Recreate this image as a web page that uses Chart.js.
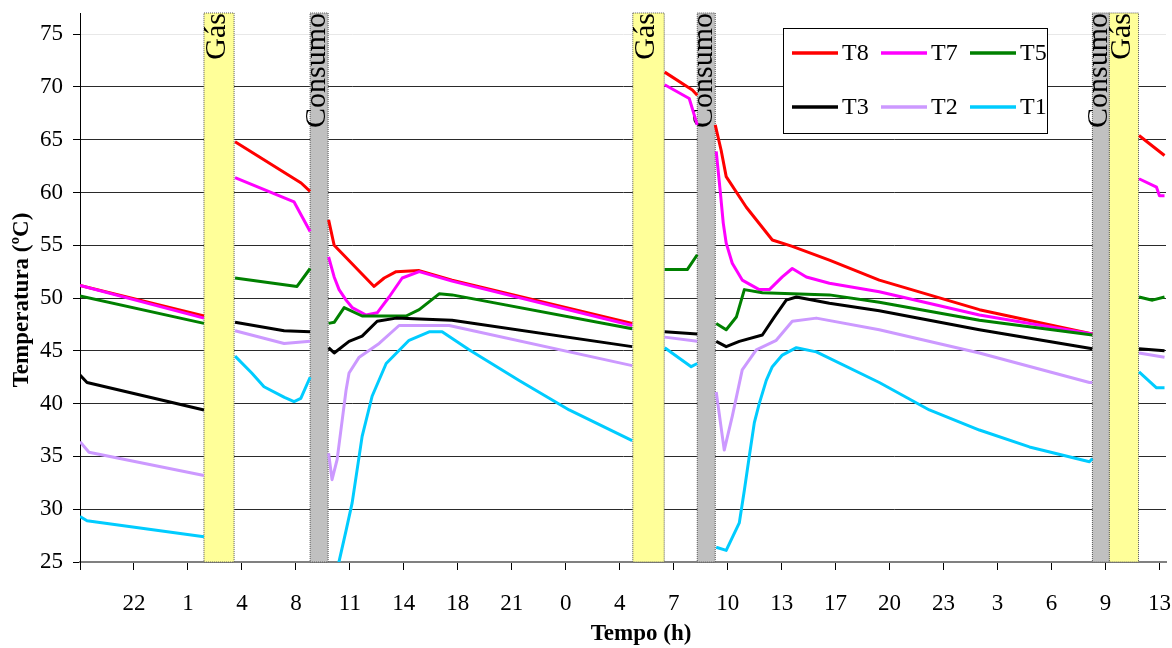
<!DOCTYPE html>
<html>
<head>
<meta charset="utf-8">
<script src="https://cdn.jsdelivr.net/npm/chart.js@4.4.0/dist/chart.umd.min.js"></script>
<style>
  html, body { margin: 0; padding: 0; background: #fff; }
</style>
</head>
<body>
<canvas id="chart" width="1172" height="648"></canvas>
<script>
// Axis setup
const X_MAX = 66.4;          // hours shown
const TICK_STEP = 3.3;       // hours between ticks
const TICK_LABELS = ['', '22', '1', '4', '8', '11', '14', '18', '21', '0', '4', '7', '10', '13', '17', '20', '23', '3', '6', '9', '13'];
const Y_TICKS = [25, 30, 35, 40, 45, 50, 55, 60, 65, 70, 75];

// Shaded periods (hours since start)
const BAND_LABELS = ['Gás', 'Consumo', 'Gás', 'Consumo', 'Consumo', 'Gás'];
const BAND_START = [7.58, 14.07, 33.8, 37.74, 61.9, 62.94];
const BAND_END = [9.42, 15.17, 35.72, 38.84, 62.94, 64.72];
const BAND_COLORS = ['#ffff99', '#c0c0c0', '#ffff99', '#c0c0c0', '#c0c0c0', '#ffff99'];

// Series: [hours, ºC], null value = break in the line
const T8 = [
  [0, 51.2], [7.58, 48.3], [7.6, null],
  [9.48, 64.8], [13.52, 60.9], [14.07, 60.1], [14.1, null],
  [15.2, 57.4], [15.54, 55.0], [17.98, 51.1], [18.6, 51.9], [19.33, 52.5], [20.74, 52.6], [22.75, 51.7], [33.76, 47.6], [33.8, null],
  [35.75, 71.4], [37.44, 69.7], [37.74, 69.2], [37.8, null],
  [38.84, 66.4], [39.2, 64.0], [39.51, 61.5], [40.74, 58.6], [42.33, 55.5], [43.55, 54.9], [45.82, 53.6], [48.87, 51.7], [54.99, 48.9], [61.9, 46.6], [61.95, null],
  [64.75, 65.4], [66.31, 63.5]
];
const T7 = [
  [0, 51.2], [7.58, 48.1], [7.6, null],
  [9.48, 61.4], [13.09, 59.1], [14.07, 56.3], [14.1, null],
  [15.2, 53.9], [15.54, 52.0], [15.84, 50.8], [16.27, 49.8], [16.64, 49.1], [17.49, 48.4], [18.17, 48.6], [18.9, 50.1], [19.7, 51.9], [20.74, 52.5], [22.75, 51.6], [33.76, 47.4], [33.8, null],
  [35.75, 70.2], [37.25, 68.9], [37.74, 66.4], [37.8, null],
  [38.9, 63.9], [39.14, 60.2], [39.33, 57.1], [39.51, 55.2], [39.88, 53.3], [40.49, 51.7], [41.53, 50.8], [42.15, 50.8], [42.94, 52.0], [43.55, 52.8], [44.41, 52.0], [45.82, 51.4], [48.87, 50.6], [54.99, 48.4], [61.9, 46.6], [61.95, null],
  [64.75, 61.3], [65.82, 60.5], [66.0, 59.7], [66.31, 59.7]
];
const T5 = [
  [0, 50.2], [7.58, 47.6], [7.6, null],
  [9.48, 51.9], [13.27, 51.1], [14.07, 52.8], [14.1, null],
  [15.2, 47.6], [15.54, 47.7], [16.15, 49.1], [17.25, 48.3], [19.94, 48.3], [20.74, 48.9], [21.96, 50.4], [22.75, 50.3], [33.76, 47.1], [33.8, null],
  [35.75, 52.7], [37.13, 52.7], [37.74, 54.1], [37.8, null],
  [38.9, 47.6], [39.51, 47.0], [40.13, 48.2], [40.62, 50.8], [41.72, 50.5], [45.82, 50.3], [48.87, 49.6], [54.99, 47.9], [61.9, 46.5], [61.95, null],
  [64.75, 50.1], [65.57, 49.8], [66.31, 50.1]
];
const T3 = [
  [0, 42.7], [0.43, 42.0], [7.58, 39.4], [7.6, null],
  [9.48, 47.7], [12.48, 46.9], [14.07, 46.8], [14.1, null],
  [15.2, 45.3], [15.54, 44.8], [16.45, 45.9], [17.25, 46.4], [18.17, 47.8], [19.33, 48.1], [21.16, 48.0], [22.75, 47.9], [33.76, 45.4], [33.8, null],
  [35.75, 46.8], [37.74, 46.6], [37.8, null],
  [38.9, 45.9], [39.51, 45.4], [40.31, 45.9], [41.72, 46.5], [42.45, 48.2], [43.18, 49.8], [43.8, 50.1], [45.82, 49.5], [48.87, 48.8], [54.99, 47.0], [61.9, 45.2], [61.95, null],
  [64.75, 45.2], [66.31, 45.0]
];
const T2 = [
  [0, 36.4], [0.55, 35.4], [7.58, 33.2], [7.6, null],
  [9.48, 46.9], [12.48, 45.7], [14.07, 45.9], [14.1, null],
  [15.2, 35.3], [15.41, 32.8], [15.72, 34.7], [16.27, 41.3], [16.45, 42.9], [17.07, 44.4], [18.29, 45.7], [19.51, 47.4], [22.57, 47.4], [33.76, 43.6], [33.8, null],
  [35.75, 46.3], [37.74, 45.9], [37.8, null],
  [38.9, 41.1], [39.39, 35.6], [39.88, 38.8], [40.49, 43.2], [41.35, 45.1], [42.57, 46.0], [43.55, 47.8], [45.02, 48.1], [48.87, 47.0], [54.99, 44.8], [61.72, 42.0], [61.9, 42.0], [61.95, null],
  [64.75, 44.8], [66.31, 44.4]
];
const T1 = [
  [0, 29.3], [0.43, 28.9], [7.58, 27.4], [7.6, null],
  [9.48, 44.5], [10.5, 42.9], [11.25, 41.6], [12.5, 40.6], [13.09, 40.2], [13.5, 40.5], [14.07, 42.5], [14.1, null],
  [15.54, 23.0], [16.27, 28.0], [16.64, 30.6], [17.25, 36.9], [17.86, 40.7], [18.72, 43.8], [20.12, 46.0], [21.35, 46.8], [22.14, 46.8], [23.79, 45.1], [26.85, 42.2], [29.91, 39.4], [33.76, 36.5], [33.8, null],
  [35.75, 45.3], [37.37, 43.5], [37.74, 43.8], [37.8, null],
  [38.9, 26.4], [39.51, 26.1], [40.31, 28.7], [40.62, 31.8], [40.92, 35.0], [41.23, 38.2], [41.53, 40.0], [41.96, 42.2], [42.33, 43.5], [42.94, 44.6], [43.8, 45.3], [45.02, 44.9], [48.87, 42.0], [51.93, 39.4], [54.99, 37.5], [58.05, 35.9], [61.72, 34.5], [61.9, 34.8], [61.95, null],
  [64.75, 43.0], [65.82, 41.5], [66.31, 41.5]
];

const SERIES_NAMES = ['T8', 'T7', 'T5', 'T3', 'T2', 'T1'];
const SERIES_DATA = [T8, T7, T5, T3, T2, T1];
const SERIES_COLORS = ['#ff0000', '#ff00ff', '#008000', '#000000', '#cc99ff', '#00ccff'];

const FONT = '"Liberation Serif", "Times New Roman", serif';
Chart.defaults.font.family = FONT;
Chart.defaults.color = '#000';

// Yellow / gray periods with their vertical labels
const bandPlugin = {
  id: 'bands',
  beforeDatasetsDraw(chart) {
    const { ctx, chartArea, scales: { x } } = chart;
    BAND_START.forEach((s, i) => {
      const x0 = x.getPixelForValue(s);
      const x1 = x.getPixelForValue(BAND_END[i]);
      ctx.save();
      ctx.fillStyle = BAND_COLORS[i];
      ctx.fillRect(x0, chartArea.top, x1 - x0, chartArea.bottom - chartArea.top);
      ctx.setLineDash([1, 1]);
      ctx.strokeStyle = '#555';
      ctx.lineWidth = 1;
      ctx.strokeRect(x0, chartArea.top, x1 - x0, chartArea.bottom - chartArea.top);
      ctx.setLineDash([]);
      ctx.translate((x0 + x1) / 2 - 2, chartArea.top);
      ctx.rotate(-Math.PI / 2);
      ctx.font = '30px ' + FONT;
      ctx.fillStyle = '#000';
      ctx.textAlign = 'right';
      ctx.textBaseline = 'middle';
      ctx.fillText(BAND_LABELS[i], 0, 0);
      ctx.restore();
    });
  }
};

// Boxed legend in the top right + axis titles
const overlayPlugin = {
  id: 'overlay',
  afterDraw(chart) {
    const ctx = chart.ctx;
    ctx.save();
    ctx.fillStyle = '#fff';
    ctx.fillRect(783.5, 28.5, 264, 105);
    ctx.strokeStyle = '#000';
    ctx.lineWidth = 1;
    ctx.strokeRect(783.5, 28.5, 264, 105);
    chart.data.datasets.forEach((ds, i) => {
      const lx = 792 + (i % 3) * 89;
      const ly = 53 + Math.floor(i / 3) * 54;
      ctx.strokeStyle = ds.borderColor;
      ctx.lineWidth = 3.5;
      ctx.beginPath();
      ctx.moveTo(lx, ly);
      ctx.lineTo(lx + 46, ly);
      ctx.stroke();
      ctx.fillStyle = '#000';
      ctx.font = '24px ' + FONT;
      ctx.textAlign = 'left';
      ctx.textBaseline = 'middle';
      ctx.fillText(ds.label, lx + 50, ly + 1);
    });

    ctx.font = 'bold 23px ' + FONT;
    ctx.textAlign = 'center';
    ctx.textBaseline = 'middle';
    ctx.fillText('Tempo (h)', 641, 634);
    ctx.translate(22, 300);
    ctx.rotate(-Math.PI / 2);
    ctx.fillText('Temperatura (ºC)', 0, 0);
    ctx.restore();
  }
};

new Chart(document.getElementById('chart'), {
  type: 'line',
  data: {
    datasets: SERIES_NAMES.map((name, i) => ({
      label: name,
      data: SERIES_DATA[i].map(p => ({ x: p[0], y: p[1] })),
      borderColor: SERIES_COLORS[i],
      borderWidth: 3,
      pointRadius: 0,
      tension: 0,
      spanGaps: false,
      borderJoinStyle: 'round',
      clip: 0,
      order: SERIES_NAMES.length - i
    }))
  },
  options: {
    responsive: false,
    devicePixelRatio: 1,
    animation: false,
    layout: { padding: { top: 13, right: 6, left: 0, bottom: 0 } },
    plugins: { legend: { display: false }, tooltip: { enabled: false } },
    scales: {
      x: {
        type: 'linear',
        min: 0,
        max: X_MAX,
        afterBuildTicks: s => { s.ticks = TICK_LABELS.map((_, i) => ({ value: i * TICK_STEP })); },
        afterFit: s => { s.height = 86; s.paddingLeft = 0; s.paddingRight = 0; },
        ticks: {
          autoSkip: false,
          maxRotation: 0,
          padding: 20,
          font: { size: 23 },
          color: '#000',
          callback: (v, i) => TICK_LABELS[i]
        },
        grid: { drawOnChartArea: false, tickLength: 8, tickColor: '#000' },
        border: { color: '#808080', width: 2 }
      },
      y: {
        min: 25,
        max: 77,
        afterBuildTicks: s => { s.ticks = Y_TICKS.map(v => ({ value: v })); },
        afterFit: s => { s.width = 80; s.paddingTop = 0; s.paddingBottom = 0; },
        ticks: { padding: 10, font: { size: 23 }, color: '#000' },
        grid: {
          color: c => (c.tick && c.tick.value === 75 ? '#e8e8e8' : '#2a2a2a'),
          lineWidth: 1,
          tickLength: 7,
          tickColor: '#000'
        },
        border: { color: '#000', width: 1 }
      }
    }
  },
  plugins: [bandPlugin, overlayPlugin]
});
</script>
</body>
</html>
